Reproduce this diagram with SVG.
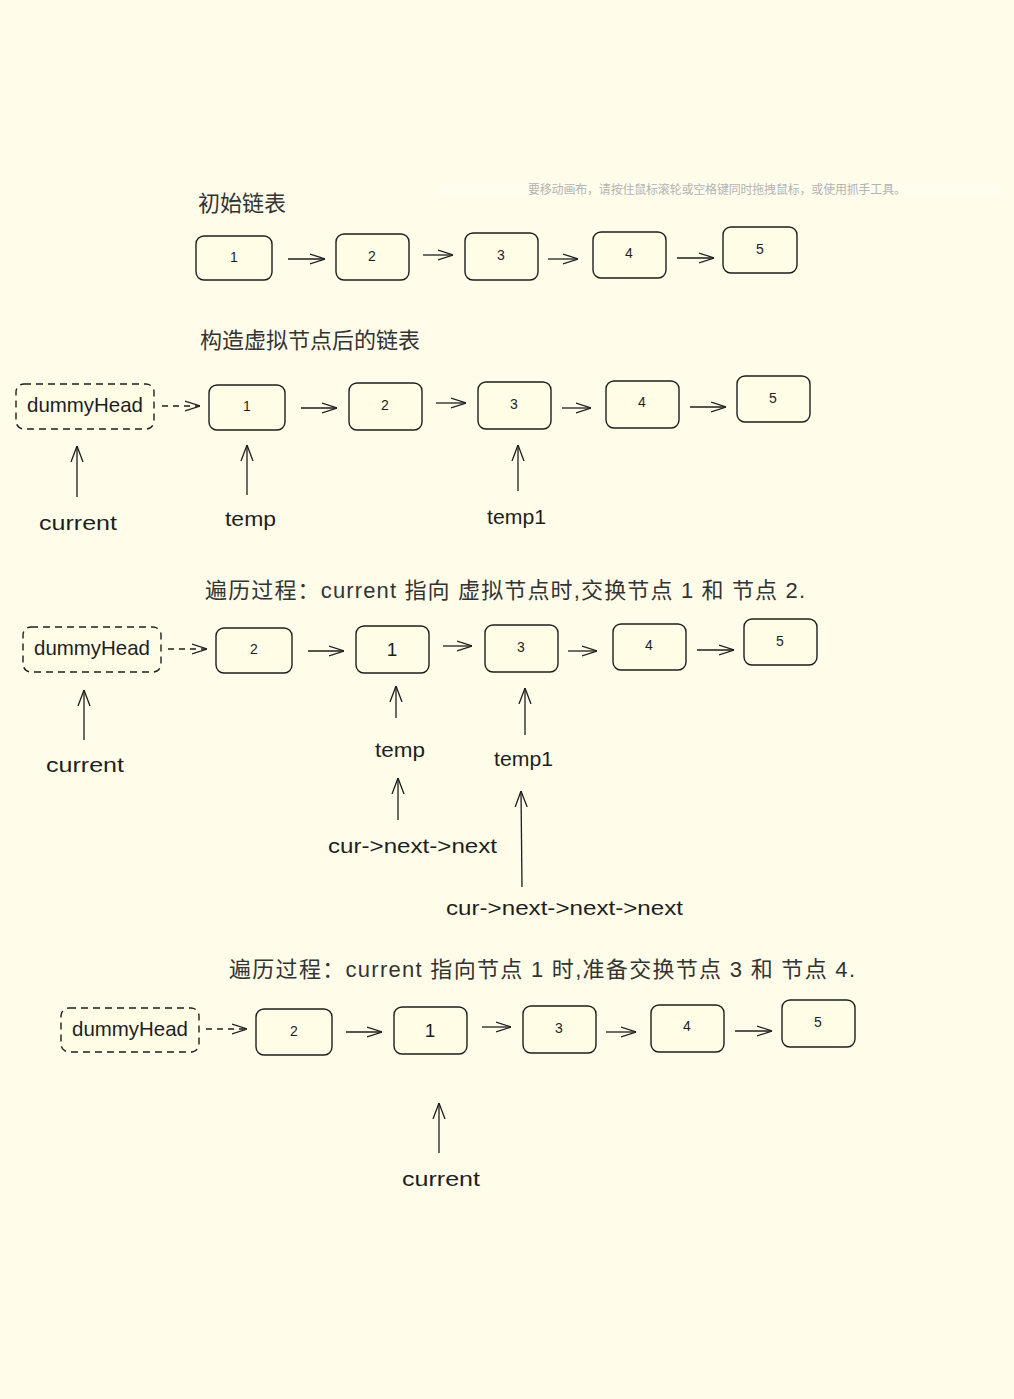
<svg xmlns="http://www.w3.org/2000/svg" width="1014" height="1399" viewBox="0 0 1014 1399">
<defs>
<style>
.bg{fill:#fffde9}
.node{fill:#fffde6;stroke:#1e1e1e;stroke-width:1.4}
.dash{fill:#fffde6;stroke:#1e1e1e;stroke-width:1.4;stroke-dasharray:7 5}
.c{fill:none;stroke:#1e1e1e;stroke-width:1.3;marker-end:url(#ah)}
.cd{fill:none;stroke:#1e1e1e;stroke-width:1.3;stroke-dasharray:6 5;marker-end:url(#ah)}
.cu{fill:none;stroke:#1e1e1e;stroke-width:1.3;marker-end:url(#ahu)}
.title{font-family:"Liberation Sans","Noto Sans CJK SC",sans-serif;font-size:22px;fill:#333}
.num{font-family:"Liberation Sans",sans-serif;font-size:14px;fill:#1e1e1e;text-anchor:middle}
.big{font-size:19px}
.hw{font-family:"Liberation Sans",sans-serif;font-size:21px;fill:#1e1e1e}
.hint{font-family:"Liberation Sans","Noto Sans CJK SC",sans-serif;font-size:12px;fill:#b3b3b3}
</style>
<marker id="ah" viewBox="0 0 15 12" refX="15" refY="6" markerWidth="15" markerHeight="12" markerUnits="userSpaceOnUse" orient="auto">
<path d="M0,1 L15,6 L0,11" fill="none" stroke="#1e1e1e" stroke-width="1.3"/>
</marker>
<marker id="ahu" viewBox="0 0 16 14" refX="16" refY="7" markerWidth="16" markerHeight="14" markerUnits="userSpaceOnUse" orient="auto">
<path d="M0,1 L16,7 L0,13" fill="none" stroke="#1e1e1e" stroke-width="1.3"/>
</marker>
</defs>
<rect class="bg" x="0" y="0" width="1014" height="1399"/>
<rect x="440" y="183" width="560" height="12" fill="#ffffff" opacity="0.18"/>
<text class="hint" x="528" y="194" textLength="378">要移动画布，请按住鼠标滚轮或空格键同时拖拽鼠标，或使用抓手工具。</text>

<!-- Section 1 -->
<text class="title" x="198" y="211">初始链表</text>
<g id="s1n1"><rect class="node" x="196" y="236" width="76" height="44" rx="8"/><text class="num" x="234" y="262">1</text></g>
<g id="s1n2"><rect class="node" x="336" y="234" width="73" height="46" rx="8"/><text class="num" x="372" y="261">2</text></g>
<g id="s1n3"><rect class="node" x="465" y="233" width="73" height="47" rx="8"/><text class="num" x="501" y="260">3</text></g>
<g id="s1n4"><rect class="node" x="593" y="232" width="73" height="46" rx="8"/><text class="num" x="629" y="258">4</text></g>
<g id="s1n5"><rect class="node" x="723" y="227" width="74" height="46" rx="8"/><text class="num" x="760" y="254">5</text></g>

<!-- Section 2 -->
<text class="title" x="200" y="348">构造虚拟节点后的链表</text>
<g id="s2dummy"><rect class="dash" x="16" y="384" width="138" height="45" rx="8"/><text class="hw" x="27" y="412" textLength="116" lengthAdjust="spacingAndGlyphs">dummyHead</text></g>
<g id="s2n1"><rect class="node" x="209" y="385" width="76" height="45" rx="8"/><text class="num" x="247" y="411">1</text></g>
<g id="s2n2"><rect class="node" x="349" y="383" width="73" height="47" rx="8"/><text class="num" x="385" y="410">2</text></g>
<g id="s2n3"><rect class="node" x="478" y="382" width="73" height="47" rx="8"/><text class="num" x="514" y="409">3</text></g>
<g id="s2n4"><rect class="node" x="606" y="381" width="73" height="47" rx="8"/><text class="num" x="642" y="407">4</text></g>
<g id="s2n5"><rect class="node" x="737" y="376" width="73" height="46" rx="8"/><text class="num" x="773" y="403">5</text></g>
<g id="s2labels">
<text class="hw" x="39" y="530" textLength="78" lengthAdjust="spacingAndGlyphs">current</text>
<text class="hw" x="225" y="526" textLength="51" lengthAdjust="spacingAndGlyphs">temp</text>
<text class="hw" x="487" y="524" textLength="59" lengthAdjust="spacingAndGlyphs">temp1</text>
</g>

<!-- Section 3 -->
<text class="title" x="205" y="598" textLength="600">遍历过程：current 指向 虚拟节点时,交换节点 1 和 节点 2.</text>
<g id="s3dummy"><rect class="dash" x="23" y="627" width="138" height="45" rx="8"/><text class="hw" x="34" y="655" textLength="116" lengthAdjust="spacingAndGlyphs">dummyHead</text></g>
<g id="s3n2"><rect class="node" x="216" y="628" width="76" height="45" rx="8"/><text class="num" x="254" y="654">2</text></g>
<g id="s3n1"><rect class="node" x="356" y="626" width="73" height="47" rx="8"/><text class="num big" x="392" y="656">1</text></g>
<g id="s3n3"><rect class="node" x="485" y="625" width="73" height="47" rx="8"/><text class="num" x="521" y="652">3</text></g>
<g id="s3n4"><rect class="node" x="613" y="624" width="73" height="46" rx="8"/><text class="num" x="649" y="650">4</text></g>
<g id="s3n5"><rect class="node" x="744" y="619" width="73" height="46" rx="8"/><text class="num" x="780" y="646">5</text></g>
<g id="s3labels">
<text class="hw" x="46" y="772" textLength="78" lengthAdjust="spacingAndGlyphs">current</text>
<text class="hw" x="375" y="757" textLength="50" lengthAdjust="spacingAndGlyphs">temp</text>
<text class="hw" x="494" y="766" textLength="59" lengthAdjust="spacingAndGlyphs">temp1</text>
<text class="hw" x="328" y="853" textLength="169" lengthAdjust="spacingAndGlyphs">cur-&gt;next-&gt;next</text>
<text class="hw" x="446" y="915" textLength="237" lengthAdjust="spacingAndGlyphs">cur-&gt;next-&gt;next-&gt;next</text>
</g>

<!-- Section 4 -->
<text class="title" x="229" y="977" textLength="626">遍历过程：current 指向节点 1 时,准备交换节点 3 和 节点 4.</text>
<g id="s4dummy"><rect class="dash" x="61" y="1008" width="138" height="44" rx="8"/><text class="hw" x="72" y="1036" textLength="116" lengthAdjust="spacingAndGlyphs">dummyHead</text></g>
<g id="s4n2"><rect class="node" x="256" y="1009" width="76" height="46" rx="8"/><text class="num" x="294" y="1036">2</text></g>
<g id="s4n1"><rect class="node" x="394" y="1007" width="73" height="47" rx="8"/><text class="num big" x="430" y="1037">1</text></g>
<g id="s4n3"><rect class="node" x="523" y="1006" width="73" height="47" rx="8"/><text class="num" x="559" y="1033">3</text></g>
<g id="s4n4"><rect class="node" x="651" y="1005" width="73" height="47" rx="8"/><text class="num" x="687" y="1031">4</text></g>
<g id="s4n5"><rect class="node" x="782" y="1000" width="73" height="47" rx="8"/><text class="num" x="818" y="1027">5</text></g>
<g id="s4labels">
<text class="hw" x="402" y="1186" textLength="78" lengthAdjust="spacingAndGlyphs">current</text>
</g>

<g id="connectors">
<!-- S1 -->
<line class="c" x1="288" y1="259" x2="325" y2="259"/>
<line class="c" x1="423" y1="255" x2="453" y2="255"/>
<line class="c" x1="548" y1="259" x2="578" y2="259"/>
<line class="c" x1="677" y1="258" x2="714" y2="258"/>
<!-- S2 -->
<line class="cd" x1="162" y1="406" x2="200" y2="406"/>
<line class="c" x1="301" y1="408" x2="337" y2="408"/>
<line class="c" x1="436" y1="403" x2="466" y2="403"/>
<line class="c" x1="562" y1="408" x2="591" y2="408"/>
<line class="c" x1="690" y1="407" x2="726" y2="407"/>
<line class="cu" x1="77" y1="497" x2="77" y2="446"/>
<line class="cu" x1="247" y1="495" x2="247" y2="445"/>
<line class="cu" x1="518" y1="491" x2="518" y2="445"/>
<!-- S3 -->
<line class="cd" x1="168" y1="649" x2="207" y2="649"/>
<line class="c" x1="308" y1="651" x2="344" y2="651"/>
<line class="c" x1="443" y1="646" x2="472" y2="646"/>
<line class="c" x1="568" y1="651" x2="597" y2="651"/>
<line class="c" x1="697" y1="650" x2="734" y2="650"/>
<line class="cu" x1="84" y1="740" x2="84" y2="690"/>
<line class="cu" x1="396" y1="718" x2="396" y2="686"/>
<line class="cu" x1="525" y1="735" x2="525" y2="688"/>
<line class="cu" x1="398" y1="820" x2="398" y2="778"/>
<line class="cu" x1="522" y1="887" x2="521" y2="791"/>
<!-- S4 -->
<line class="cd" x1="206" y1="1029" x2="247" y2="1029"/>
<line class="c" x1="346" y1="1032" x2="382" y2="1032"/>
<line class="c" x1="482" y1="1027" x2="511" y2="1027"/>
<line class="c" x1="606" y1="1032" x2="636" y2="1032"/>
<line class="c" x1="735" y1="1031" x2="772" y2="1031"/>
<line class="cu" x1="439" y1="1153" x2="439" y2="1103"/>
</g>
</svg>
